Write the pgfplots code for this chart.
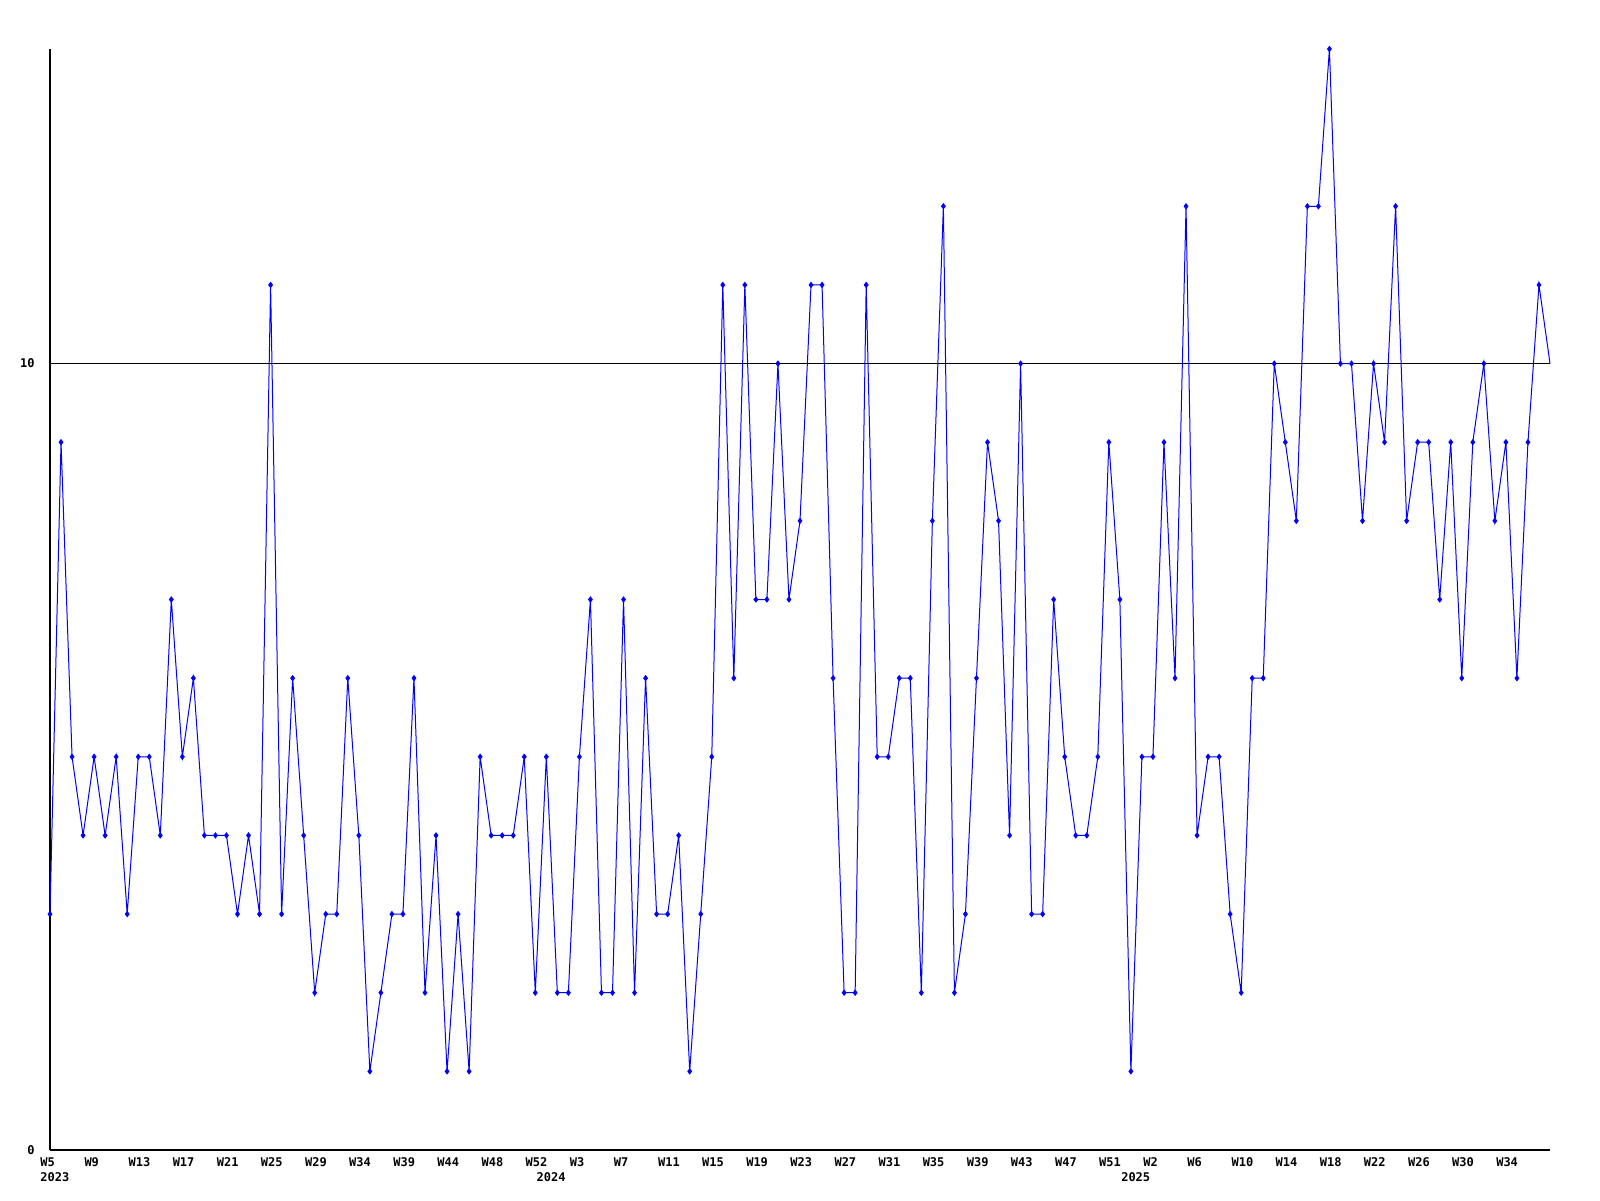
\documentclass[border=0pt]{standalone}
\usepackage{pgfplots}
\pgfplotsset{compat=1.18}
\usepackage{pgfplotstable}
\usepackage{fontspec}
\setmonofont{DejaVu Sans Mono}
\pgfplotstableread{
x y
0 3
1 9
2 5
3 4
4 5
5 4
6 5
7 3
8 5
9 5
10 4
11 7
12 5
13 6
14 4
15 4
16 4
17 3
18 4
19 3
20 11
21 3
22 6
23 4
24 2
25 3
26 3
27 6
28 4
29 1
30 2
31 3
32 3
33 6
34 2
35 4
36 1
37 3
38 1
39 5
40 4
41 4
42 4
43 5
44 2
45 5
46 2
47 2
48 5
49 7
50 2
51 2
52 7
53 2
54 6
55 3
56 3
57 4
58 1
59 3
60 5
61 11
62 6
63 11
64 7
65 7
66 10
67 7
68 8
69 11
70 11
71 6
72 2
73 2
74 11
75 5
76 5
77 6
78 6
79 2
80 8
81 12
82 2
83 3
84 6
85 9
86 8
87 4
88 10
89 3
90 3
91 7
92 5
93 4
94 4
95 5
96 9
97 7
98 1
99 5
100 5
101 9
102 6
103 12
104 4
105 5
106 5
107 3
108 2
109 6
110 6
111 10
112 9
113 8
114 12
115 12
116 14
117 10
118 10
119 8
120 10
121 9
122 12
123 8
124 9
125 9
126 7
127 9
128 6
129 9
130 10
131 8
132 9
133 6
134 9
135 11
136 10
}\data
\begin{document}
\begin{tikzpicture}
\useasboundingbox (-25pt,-25pt) rectangle (775pt,575pt);
\begin{axis}[
  at={(0,0)}, anchor=south west,
  scale only axis, width=750pt, height=550.5pt,
  xmin=0, xmax=136, ymin=0, ymax=14,
  axis x line*=bottom, axis y line*=left,
  axis line style={-, black, line width=0.6pt},
  xtick={0,4,...,132},
  xticklabels={W5,W9,W13,W17,W21,W25,W29,W34,W39,W44,W48,W52,W3,W7,W11,W15,W19,W23,W27,W31,W35,W39,W43,W47,W51,W2,W6,W10,W14,W18,W22,W26,W30,W34},
  ytick={0,10}, yticklabels={0,10},
  ymajorgrids, grid style={black, line width=0.5pt},
  major tick length=0pt,
  /pgf/number format/assume math mode=true,
  tick label style={font=\ttfamily\bfseries\fontsize{6}{6}\selectfont},
  xticklabel style={anchor=north west, inner sep=0pt, xshift=-5pt, yshift=-3.8pt},
  yticklabel style={anchor=east, inner sep=0pt, xshift=-7.5pt},
  extra x ticks={0,45,98},
  extra x tick labels={2023,2024,2025},
  extra x tick style={xticklabel style={yshift=-7.5pt}},
  clip=false,
]
\addplot[blue, line width=0.5pt, mark=none] table[x=x,y=y] {\data};
\addplot[blue, only marks, mark=diamond*, mark size=1.3pt, restrict x to domain=0:135] table[x=x,y=y] {\data};
\end{axis}
\end{tikzpicture}
\end{document}
